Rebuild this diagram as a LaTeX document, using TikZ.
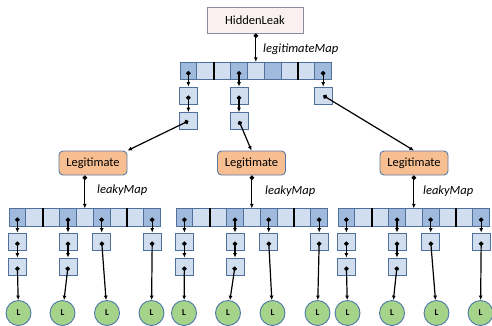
\documentclass[tikz,border=0pt]{standalone}
\usepackage{fontspec}
\setmainfont{Carlito}
\usepackage{xcolor}
\definecolor{cellfill}{RGB}{208,222,240}
\definecolor{celldark}{RGB}{160,186,222}
\definecolor{cellline}{RGB}{80,112,156}
\definecolor{legfill}{RGB}{247,191,145}
\definecolor{legline}{RGB}{90,122,165}
\definecolor{leaffill}{RGB}{166,211,138}
\definecolor{leafline}{RGB}{76,120,168}
\definecolor{hidefill}{RGB}{250,240,240}
\definecolor{hideline}{RGB}{140,140,160}
\usetikzlibrary{arrows.meta}

\tikzset{
  cell/.style={draw=cellline, line width=0.8pt, fill=cellfill, minimum width=16.85pt, minimum height=17.5pt, inner sep=0pt},
  celldk/.style={cell, fill=celldark},
  chainbox/.style={draw=cellline, line width=0.8pt, fill=cellfill, minimum width=18pt, minimum height=17pt, inner sep=0pt},
  bar/.style={line width=2pt, black},
  ptr/.style={{Circle[length=4.5pt]}-{Latex[length=4.5pt,width=4pt]}, line width=1.2pt, black},
  legbox/.style={draw=legline, line width=0.9pt, fill=legfill, rounded corners=4pt, minimum width=68pt, minimum height=24pt, font=\fontsize{12.5}{15}\selectfont},
  hidebox/.style={draw=hideline, line width=0.9pt, fill=hidefill, minimum width=96pt, minimum height=26pt, font=\fontsize{12.5}{15}\selectfont},
  leaf/.style={circle, draw=leafline, line width=0.9pt, fill=leaffill, minimum size=25pt, inner sep=0pt, font=\bfseries\fontsize{9}{10}\selectfont},
  maplabel/.style={anchor=west, inner sep=0pt, font=\itshape\fontsize{12.5}{15}\selectfont}
}

\begin{document}
\begin{tikzpicture}[x=1pt, y=-1pt]
  \useasboundingbox (0,0) rectangle (492,325);

  % Root object and its map
  \node[hidebox] (hidden) at (255,20) {HiddenLeak};
  \node[maplabel] (lgmlab) at (263,49) {legitimateMap};

  \node[celldk] (tm0) at (188.4,71) {};
  \node[cell]   (tm1) at (205.3,71) {};
  \node[cell]   (tm2) at (222.1,71) {};
  \node[celldk] (tm3) at (239.0,71) {};
  \node[cell]   (tm4) at (255.8,71) {};
  \node[celldk] (tm5) at (272.7,71) {};
  \node[cell]   (tm6) at (289.5,71) {};
  \node[cell]   (tm7) at (306.4,71) {};
  \node[celldk] (tm8) at (323.2,71) {};
  \draw[bar] (tm1.north east) -- (tm1.south east);
  \draw[bar] (tm6.north east) -- (tm6.south east);

  % Bucket chains of legitimateMap
  \node[chainbox] (ta1) at (188.4,95.5) {};
  \node[chainbox] (ta2) at (188.4,121) {};
  \node[chainbox] (tb1) at (239.0,95.5) {};
  \node[chainbox] (tb2) at (239.0,121) {};
  \node[chainbox] (tc1) at (323.2,95.5) {};

  \draw[ptr] (hidden.south -| tm4) -- (tm4.north);
  \draw[ptr] (tm0.center) -- (ta1.north);
  \draw[ptr] (ta1.center) -- (ta2.north);
  \draw[ptr] (tm3.center) -- (tb1.north);
  \draw[ptr] (tb1.center) -- (tb2.north);
  \draw[ptr] (tm8.center) -- (tc1.north);

  % Legitimate values
  \node[legbox] (legL) at (93,163) {Legitimate};
  \node[legbox] (legM) at (251.5,163) {Legitimate};
  \node[legbox] (legR) at (414,163) {Legitimate};
  \draw[ptr] (ta2.center) -- (legL.north east);
  \draw[ptr] (tb2.center) -- (legM.north);
  \draw[ptr] (tc1.center) -- (legR.north);

  % Left leakyMap
  \node[maplabel] (lkmL) at (97,190) {leakyMap};
  \node[celldk] (lm0) at (17.4,217.5) {};
  \node[cell]   (lm1) at (34.3,217.5) {};
  \node[cell]   (lm2) at (51.1,217.5) {};
  \node[celldk] (lm3) at (68.0,217.5) {};
  \node[cell]   (lm4) at (84.8,217.5) {};
  \node[celldk] (lm5) at (101.7,217.5) {};
  \node[cell]   (lm6) at (118.5,217.5) {};
  \node[cell]   (lm7) at (135.4,217.5) {};
  \node[celldk] (lm8) at (152.2,217.5) {};
  \draw[bar] (lm1.north east) -- (lm1.south east);
  \draw[bar] (lm6.north east) -- (lm6.south east);
  \draw[ptr] (legL.south -| lm4) -- (lm4.north);

  \node[chainbox] (la1) at (17.4,241.5) {};
  \node[chainbox] (la2) at (17.4,266.5) {};
  \node[chainbox] (lb1) at (68.0,241.5) {};
  \node[chainbox] (lb2) at (68.0,266.5) {};
  \node[chainbox] (lc1) at (101.7,241.5) {};
  \node[chainbox] (ld1) at (152.2,241.5) {};
  \draw[ptr] (lm0.center) -- (la1.north);
  \draw[ptr] (la1.center) -- (la2.north);
  \draw[ptr] (lm3.center) -- (lb1.north);
  \draw[ptr] (lb1.center) -- (lb2.north);
  \draw[ptr] (lm5.center) -- (lc1.north);
  \draw[ptr] (lm8.center) -- (ld1.north);

  \node[leaf] (lfL1) at (18.5,313) {L};
  \node[leaf] (lfL2) at (62.5,313) {L};
  \node[leaf] (lfL3) at (107,313) {L};
  \node[leaf] (lfL4) at (151.5,313) {L};
  \draw[ptr] (la2.center) -- (lfL1);
  \draw[ptr] (lb2.center) -- (lfL2);
  \draw[ptr] (lc1.center) -- (lfL3);
  \draw[ptr] (ld1.center) -- (lfL4);

  % Middle leakyMap
  \node[maplabel] (lkmM) at (265,191) {leakyMap};
  \node[celldk] (mm0) at (184.4,217.5) {};
  \node[cell]   (mm1) at (201.3,217.5) {};
  \node[cell]   (mm2) at (218.1,217.5) {};
  \node[celldk] (mm3) at (235.0,217.5) {};
  \node[cell]   (mm4) at (251.8,217.5) {};
  \node[celldk] (mm5) at (268.7,217.5) {};
  \node[cell]   (mm6) at (285.5,217.5) {};
  \node[cell]   (mm7) at (302.4,217.5) {};
  \node[celldk] (mm8) at (319.2,217.5) {};
  \draw[bar] (mm1.north east) -- (mm1.south east);
  \draw[bar] (mm6.north east) -- (mm6.south east);
  \draw[ptr] (legM.south -| mm4) -- (mm4.north);

  \node[chainbox] (ma1) at (184.4,241.5) {};
  \node[chainbox] (ma2) at (184.4,266.5) {};
  \node[chainbox] (mb1) at (235.0,241.5) {};
  \node[chainbox] (mb2) at (235.0,266.5) {};
  \node[chainbox] (mc1) at (268.7,241.5) {};
  \node[chainbox] (md1) at (319.2,241.5) {};
  \draw[ptr] (mm0.center) -- (ma1.north);
  \draw[ptr] (ma1.center) -- (ma2.north);
  \draw[ptr] (mm3.center) -- (mb1.north);
  \draw[ptr] (mb1.center) -- (mb2.north);
  \draw[ptr] (mm5.center) -- (mc1.north);
  \draw[ptr] (mm8.center) -- (md1.north);

  \node[leaf] (lfM1) at (184,313) {L};
  \node[leaf] (lfM2) at (228,313) {L};
  \node[leaf] (lfM3) at (272.5,313) {L};
  \node[leaf] (lfM4) at (317.5,313) {L};
  \draw[ptr] (ma2.center) -- (lfM1);
  \draw[ptr] (mb2.center) -- (lfM2);
  \draw[ptr] (mc1.center) -- (lfM3);
  \draw[ptr] (md1.center) -- (lfM4);

  % Right leakyMap
  \node[maplabel] (lkmR) at (423,191) {leakyMap};
  \node[celldk] (rm0) at (346.4,217.5) {};
  \node[cell]   (rm1) at (363.3,217.5) {};
  \node[cell]   (rm2) at (380.1,217.5) {};
  \node[celldk] (rm3) at (397.0,217.5) {};
  \node[cell]   (rm4) at (413.8,217.5) {};
  \node[celldk] (rm5) at (430.7,217.5) {};
  \node[cell]   (rm6) at (447.5,217.5) {};
  \node[cell]   (rm7) at (464.4,217.5) {};
  \node[celldk] (rm8) at (481.2,217.5) {};
  \draw[bar] (rm1.north east) -- (rm1.south east);
  \draw[bar] (rm6.north east) -- (rm6.south east);
  \draw[ptr] (legR.south -| rm4) -- (rm4.north);

  \node[chainbox] (ra1) at (346.4,241.5) {};
  \node[chainbox] (ra2) at (346.4,266.5) {};
  \node[chainbox] (rb1) at (397.0,241.5) {};
  \node[chainbox] (rb2) at (397.0,266.5) {};
  \node[chainbox] (rc1) at (430.7,241.5) {};
  \node[chainbox] (rd1) at (481.2,241.5) {};
  \draw[ptr] (rm0.center) -- (ra1.north);
  \draw[ptr] (ra1.center) -- (ra2.north);
  \draw[ptr] (rm3.center) -- (rb1.north);
  \draw[ptr] (rb1.center) -- (rb2.north);
  \draw[ptr] (rm5.center) -- (rc1.north);
  \draw[ptr] (rm8.center) -- (rd1.north);

  \node[leaf] (lfR1) at (347.5,313) {L};
  \node[leaf] (lfR2) at (392,313) {L};
  \node[leaf] (lfR3) at (436.5,313) {L};
  \node[leaf] (lfR4) at (480.5,313) {L};
  \draw[ptr] (ra2.center) -- (lfR1);
  \draw[ptr] (rb2.center) -- (lfR2);
  \draw[ptr] (rc1.center) -- (lfR3);
  \draw[ptr] (rd1.center) -- (lfR4);
\end{tikzpicture}
\end{document}
